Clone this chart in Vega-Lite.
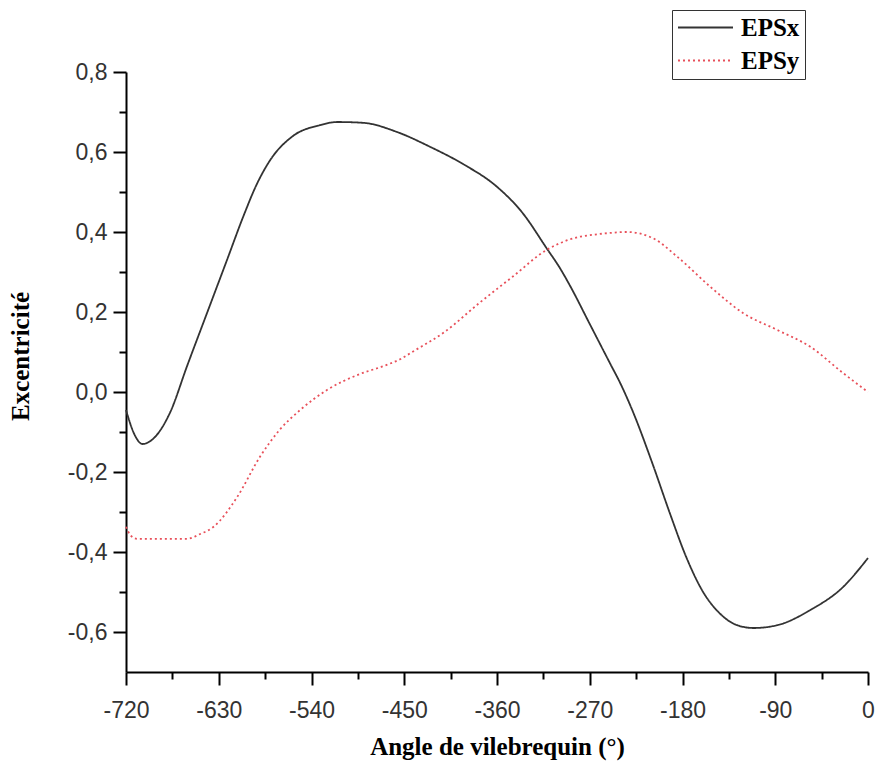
{
  "$schema": "https://vega.github.io/schema/vega-lite/v6.json",
  "width": 742,
  "height": 600,
  "autosize": "none",
  "padding": {"left": 126, "top": 72, "right": 9, "bottom": 93},
  "background": "white",
  "config": {
    "view": {"stroke": null},
    "axis": {
      "grid": false,
      "domainColor": "black",
      "domainWidth": 2,
      "tickColor": "black",
      "tickWidth": 2,
      "labelFont": "Liberation Sans",
      "labelFontSize": 23,
      "labelColor": "#333333",
      "labelOverlap": false,
      "labelFlush": false,
      "titleFont": "Liberation Serif",
      "titleFontWeight": "bold",
      "titleFontSize": 25,
      "titleColor": "black"
    },
    "legend": {
      "orient": "none",
      "legendX": 546,
      "legendY": -62,
      "strokeColor": "#333333",
      "padding": 5,
      "symbolType": "M-2.5,0H2.5",
      "symbolSize": 484,
      "symbolOffset": 16,
      "symbolStrokeWidth": 2,
      "labelFont": "Liberation Serif",
      "labelFontSize": 25,
      "labelFontWeight": "bold",
      "labelColor": "black",
      "labelOffset": 23,
      "rowPadding": 7
    }
  },
  "data": {
    "values": [
      {"angle": -720, "eps": -0.045, "serie": "EPSx"},
      {"angle": -712, "eps": -0.105, "serie": "EPSx"},
      {"angle": -704, "eps": -0.13, "serie": "EPSx"},
      {"angle": -695, "eps": -0.12, "serie": "EPSx"},
      {"angle": -677, "eps": -0.05, "serie": "EPSx"},
      {"angle": -661, "eps": 0.063, "serie": "EPSx"},
      {"angle": -641, "eps": 0.2, "serie": "EPSx"},
      {"angle": -622, "eps": 0.33, "serie": "EPSx"},
      {"angle": -606, "eps": 0.44, "serie": "EPSx"},
      {"angle": -593, "eps": 0.52, "serie": "EPSx"},
      {"angle": -580, "eps": 0.58, "serie": "EPSx"},
      {"angle": -558, "eps": 0.64, "serie": "EPSx"},
      {"angle": -532, "eps": 0.667, "serie": "EPSx"},
      {"angle": -515, "eps": 0.675, "serie": "EPSx"},
      {"angle": -490, "eps": 0.673, "serie": "EPSx"},
      {"angle": -457, "eps": 0.65, "serie": "EPSx"},
      {"angle": -425, "eps": 0.613, "serie": "EPSx"},
      {"angle": -393, "eps": 0.57, "serie": "EPSx"},
      {"angle": -360, "eps": 0.513, "serie": "EPSx"},
      {"angle": -335, "eps": 0.447, "serie": "EPSx"},
      {"angle": -312, "eps": 0.36, "serie": "EPSx"},
      {"angle": -299, "eps": 0.31, "serie": "EPSx"},
      {"angle": -289, "eps": 0.265, "serie": "EPSx"},
      {"angle": -270, "eps": 0.17, "serie": "EPSx"},
      {"angle": -250, "eps": 0.07, "serie": "EPSx"},
      {"angle": -240, "eps": 0.02, "serie": "EPSx"},
      {"angle": -228, "eps": -0.05, "serie": "EPSx"},
      {"angle": -209, "eps": -0.18, "serie": "EPSx"},
      {"angle": -192, "eps": -0.305, "serie": "EPSx"},
      {"angle": -176, "eps": -0.415, "serie": "EPSx"},
      {"angle": -160, "eps": -0.5, "serie": "EPSx"},
      {"angle": -144, "eps": -0.553, "serie": "EPSx"},
      {"angle": -127, "eps": -0.583, "serie": "EPSx"},
      {"angle": -111, "eps": -0.59, "serie": "EPSx"},
      {"angle": -88, "eps": -0.583, "serie": "EPSx"},
      {"angle": -56, "eps": -0.545, "serie": "EPSx"},
      {"angle": -24, "eps": -0.487, "serie": "EPSx"},
      {"angle": 0, "eps": -0.415, "serie": "EPSx"},
      {"angle": -720, "eps": -0.337, "serie": "EPSy"},
      {"angle": -715, "eps": -0.36, "serie": "EPSy"},
      {"angle": -709, "eps": -0.367, "serie": "EPSy"},
      {"angle": -661, "eps": -0.367, "serie": "EPSy"},
      {"angle": -648, "eps": -0.355, "serie": "EPSy"},
      {"angle": -635, "eps": -0.337, "serie": "EPSy"},
      {"angle": -612, "eps": -0.262, "serie": "EPSy"},
      {"angle": -590, "eps": -0.162, "serie": "EPSy"},
      {"angle": -571, "eps": -0.095, "serie": "EPSy"},
      {"angle": -551, "eps": -0.045, "serie": "EPSy"},
      {"angle": -525, "eps": 0.005, "serie": "EPSy"},
      {"angle": -493, "eps": 0.045, "serie": "EPSy"},
      {"angle": -470, "eps": 0.065, "serie": "EPSy"},
      {"angle": -454, "eps": 0.082, "serie": "EPSy"},
      {"angle": -441, "eps": 0.102, "serie": "EPSy"},
      {"angle": -412, "eps": 0.148, "serie": "EPSy"},
      {"angle": -376, "eps": 0.225, "serie": "EPSy"},
      {"angle": -344, "eps": 0.29, "serie": "EPSy"},
      {"angle": -312, "eps": 0.355, "serie": "EPSy"},
      {"angle": -299, "eps": 0.372, "serie": "EPSy"},
      {"angle": -280, "eps": 0.388, "serie": "EPSy"},
      {"angle": -267, "eps": 0.393, "serie": "EPSy"},
      {"angle": -253, "eps": 0.397, "serie": "EPSy"},
      {"angle": -234, "eps": 0.4, "serie": "EPSy"},
      {"angle": -209, "eps": 0.385, "serie": "EPSy"},
      {"angle": -185, "eps": 0.338, "serie": "EPSy"},
      {"angle": -153, "eps": 0.263, "serie": "EPSy"},
      {"angle": -121, "eps": 0.197, "serie": "EPSy"},
      {"angle": -88, "eps": 0.155, "serie": "EPSy"},
      {"angle": -56, "eps": 0.113, "serie": "EPSy"},
      {"angle": -24, "eps": 0.047, "serie": "EPSy"},
      {"angle": 0, "eps": 0.0, "serie": "EPSy"}
    ]
  },
  "mark": {"type": "line", "interpolate": "monotone", "strokeWidth": 1.8},
  "encoding": {
    "x": {
      "field": "angle",
      "type": "quantitative",
      "scale": {"domain": [-720, 0], "nice": false, "zero": false},
      "axis": {
        "title": "Angle de vilebrequin (°)",
        "values": [-720, -675, -630, -585, -540, -495, -450, -405, -360, -315, -270, -225, -180, -135, -90, -45, 0],
        "tickSize": {"condition": {"test": "datum.value % 90 === 0", "value": 13}, "value": 7},
        "labelExpr": "datum.value % 90 === 0 ? replace(format(datum.value, 'd'), '\u2212', '-') : ''",
        "labelPadding": 14,
        "titlePadding": 12
      }
    },
    "y": {
      "field": "eps",
      "type": "quantitative",
      "scale": {"domain": [-0.7, 0.8], "nice": false, "zero": false},
      "axis": {
        "title": "Excentricité",
        "values": [-0.6, -0.5, -0.4, -0.3, -0.2, -0.1, 0, 0.1, 0.2, 0.3, 0.4, 0.5, 0.6, 0.7, 0.8],
        "tickSize": {"condition": {"test": "abs(round(datum.value * 10)) % 2 === 0", "value": 13}, "value": 7},
        "labelExpr": "abs(round(datum.value * 10)) % 2 === 0 ? replace(replace(format(datum.value, '.1f'), '.', ','), '\u2212', '-') : ''",
        "labelPadding": 6,
        "titlePadding": 34,
        "titleY": 284
      }
    },
    "color": {
      "field": "serie",
      "type": "nominal",
      "scale": {"domain": ["EPSx", "EPSy"], "range": ["#333333", "#e8505a"]},
      "legend": {"title": null}
    },
    "strokeDash": {
      "field": "serie",
      "type": "nominal",
      "scale": {"domain": ["EPSx", "EPSy"], "range": [[1, 0], [2, 3]]},
      "legend": {"title": null}
    }
  }
}
